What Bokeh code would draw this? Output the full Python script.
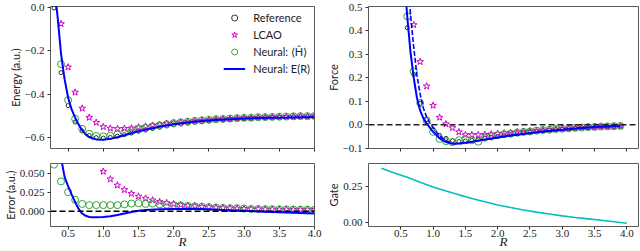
from bokeh.plotting import figure
from bokeh.layouts import row, column
from bokeh.models import (Range1d, FixedTicker, CustomJSTickFormatter, Legend,
                          LegendItem, Span, CustomLabelingPolicy)
from bokeh.embed import file_html
from bokeh.resources import INLINE

# ---------------- data ----------------
R_E = [0.3, 0.4, 0.5, 0.6, 0.7, 0.8, 0.9, 1.0, 1.1, 1.2, 1.3, 1.4, 1.5, 1.6, 1.7,
       1.8, 1.9, 2.0, 2.1, 2.2, 2.3, 2.4, 2.5, 2.6, 2.7, 2.8, 2.9, 3.0, 3.1, 3.2,
       3.3, 3.4, 3.5, 3.6, 3.7, 3.8, 3.9, 4.0]
E_ref = [-0.002, -0.300, -0.452, -0.528, -0.569, -0.590, -0.600, -0.602, -0.599,
         -0.593, -0.586, -0.579, -0.571, -0.565, -0.558, -0.552, -0.546, -0.541,
         -0.537, -0.533, -0.529, -0.526, -0.523, -0.520, -0.518, -0.516, -0.514,
         -0.512, -0.511, -0.509, -0.508, -0.507, -0.506, -0.505, -0.504, -0.503,
         -0.503, -0.502]
E_H = [0.059, -0.261, -0.427, -0.513, -0.5595, -0.582, -0.592, -0.594, -0.591,
       -0.585, -0.577, -0.569, -0.5605, -0.5555, -0.548, -0.543, -0.5375, -0.533,
       -0.5295, -0.526, -0.5225, -0.520, -0.5175, -0.515, -0.5135, -0.512, -0.510,
       -0.5085, -0.508, -0.506, -0.5052, -0.5044, -0.5035, -0.5026, -0.5017,
       -0.5008, -0.5009, -0.500]
err_H = [0.061, 0.039, 0.025, 0.015, 0.0095, 0.008, 0.008, 0.008, 0.008, 0.008,
         0.009, 0.010, 0.0105, 0.0095, 0.010, 0.009, 0.0085, 0.008, 0.0075, 0.007,
         0.0065, 0.006, 0.0055, 0.005, 0.0045, 0.004, 0.004, 0.0035, 0.003, 0.003,
         0.0028, 0.0026, 0.0025, 0.0024, 0.0023, 0.0022, 0.0021, 0.002]

R_L = [0.4, 0.5, 0.6, 0.7, 0.8, 0.9, 1.0, 1.1, 1.2, 1.3, 1.4, 1.5, 1.6, 1.7,
       1.8, 1.9, 2.0, 2.1, 2.2, 2.3, 2.4, 2.5, 2.6, 2.7, 2.8, 2.9, 3.0, 3.1, 3.2,
       3.3, 3.4, 3.5, 3.6, 3.7, 3.8, 3.9, 4.0]
E_L = [-0.075, -0.275, -0.391, -0.465, -0.507, -0.530, -0.550, -0.557, -0.559,
       -0.558, -0.556, -0.5515, -0.548, -0.5435, -0.5395, -0.535, -0.5315,
       -0.5285, -0.5255, -0.522, -0.520, -0.5175, -0.515, -0.5135, -0.512,
       -0.5103, -0.5086, -0.5079, -0.5061, -0.5053, -0.5045, -0.5036, -0.5027,
       -0.5018, -0.5009, -0.501, -0.500]
err_L = [0.225, 0.177, 0.137, 0.104, 0.083, 0.070, 0.052, 0.042, 0.034, 0.028,
         0.023, 0.0195, 0.0168, 0.0145, 0.0125, 0.011, 0.0095, 0.0085, 0.0075,
         0.0068, 0.006, 0.0055, 0.005, 0.0045, 0.004, 0.0037, 0.0034, 0.0031,
         0.0029, 0.0027, 0.0025, 0.0024, 0.0023, 0.0022, 0.0021, 0.002, 0.002]

R_line = [0.33, 0.35, 0.40, 0.45, 0.50, 0.55, 0.60, 0.65, 0.70, 0.75, 0.80, 0.85,
          0.90, 1.0, 1.1, 1.2, 1.3, 1.4, 1.5, 1.6, 1.8, 2.0, 2.2, 2.4, 2.6, 2.8,
          3.0, 3.2, 3.4, 3.6, 3.8, 4.0]
E_line = [0.02, -0.04, -0.215, -0.33, -0.415, -0.47, -0.508, -0.54, -0.566,
          -0.585, -0.597, -0.604, -0.608, -0.6095, -0.6055, -0.598, -0.589, -0.580,
          -0.5705, -0.5635, -0.5495, -0.538, -0.530, -0.5232, -0.518, -0.5148,
          -0.5115, -0.5092, -0.508, -0.5068, -0.5054, -0.505]

R_err_line = [0.35, 0.40, 0.45, 0.50, 0.55, 0.60, 0.65, 0.70, 0.75, 0.80, 0.85,
              0.90, 1.0, 1.1, 1.2, 1.3, 1.4, 1.5, 1.6, 1.8, 2.0, 2.2, 2.4, 2.6,
              2.8, 3.0, 3.2, 3.4, 3.6, 3.8, 4.0]
err_line = [0.11, 0.07, 0.045, 0.033, 0.022, 0.012, 0.003, -0.003, -0.006, -0.0075,
            -0.008, -0.008, -0.0075, -0.0065, -0.005, -0.003, -0.001, 0.0005,
            0.0015, 0.0025, 0.003, 0.003, 0.0028, 0.002, 0.0012, 0.0005, -0.0002,
            -0.001, -0.0018, -0.0024, -0.003]

R_F = [0.6, 0.7, 0.8, 0.9, 1.0, 1.1, 1.2, 1.3, 1.4, 1.5, 1.6, 1.7, 1.8, 1.9, 2.0,
       2.1, 2.2, 2.3, 2.4, 2.5, 2.6, 2.7, 2.8, 2.9, 3.0, 3.1, 3.2, 3.3, 3.4, 3.5,
       3.6, 3.7, 3.8, 3.9]
F_ref = [0.413, 0.214, 0.091, 0.022, -0.020, -0.045, -0.058, -0.067, -0.071, -0.069,
         -0.066, -0.062, -0.058, -0.054, -0.050, -0.046, -0.042, -0.038, -0.035,
         -0.032, -0.029, -0.026, -0.023, -0.021, -0.019, -0.017, -0.015, -0.013,
         -0.012, -0.011, -0.009, -0.008, -0.007, -0.006]
F_H = [0.461, 0.227, 0.092, 0.018, -0.030, -0.060, -0.070, -0.074, -0.066, -0.060,
       -0.066, -0.072, -0.055, -0.050, -0.044, -0.040, -0.038, -0.034, -0.030,
       -0.029, -0.025, -0.022, -0.021, -0.018, -0.017, -0.015, -0.013, -0.012,
       -0.010, -0.009, -0.008, -0.007, -0.006, -0.005]
R_FL = [0.7, 0.8, 0.9, 1.0, 1.1, 1.2, 1.3, 1.4, 1.5, 1.6, 1.7, 1.8, 1.9, 2.0,
        2.1, 2.2, 2.3, 2.4, 2.5, 2.6, 2.7, 2.8, 2.9, 3.0, 3.1, 3.2, 3.3, 3.4, 3.5,
        3.6, 3.7, 3.8, 3.9]
F_L = [0.425, 0.268, 0.164, 0.082, 0.031, 0.003, -0.013, -0.031, -0.043, -0.043,
       -0.043, -0.042, -0.040, -0.038, -0.036, -0.034, -0.031, -0.029, -0.027,
       -0.025, -0.023, -0.021, -0.019, -0.017, -0.015, -0.014, -0.012, -0.011,
       -0.010, -0.009, -0.008, -0.007, -0.006]
R_FE = [0.55, 0.6, 0.65, 0.7, 0.75, 0.8, 0.85, 0.9, 0.95, 1.0, 1.1, 1.2, 1.3, 1.4,
        1.5, 1.6, 1.8, 2.0, 2.2, 2.4, 2.6, 2.8, 3.0, 3.2, 3.4, 3.6, 3.8, 3.9]
F_E = [0.64, 0.46, 0.31, 0.20, 0.115, 0.06, 0.027, 0.006, -0.012, -0.03, -0.058,
       -0.074, -0.081, -0.080, -0.077, -0.072, -0.063, -0.054, -0.046, -0.039,
       -0.032, -0.026, -0.021, -0.016, -0.012, -0.009, -0.006, -0.005]
R_FD = [0.6, 0.65, 0.7, 0.75, 0.8, 0.85, 0.9, 0.95, 1.0, 1.05, 1.1, 1.2, 1.3, 1.4,
        1.5, 1.6, 1.8, 2.0, 2.2, 2.4, 2.6, 2.8, 3.0, 3.2, 3.4, 3.6, 3.8, 3.9]
F_D = [0.64, 0.47, 0.33, 0.21, 0.13, 0.07, 0.033, 0.008, -0.012, -0.03, -0.047,
       -0.068, -0.079, -0.081, -0.078, -0.073, -0.063, -0.054, -0.046, -0.039,
       -0.032, -0.026, -0.021, -0.016, -0.012, -0.009, -0.006, -0.005]

R_G = [0.2, 0.4, 0.6, 0.8, 1.0, 1.2, 1.4, 1.6, 1.8, 2.0, 2.2, 2.4, 2.6, 2.8, 3.0,
       3.2, 3.4, 3.6, 3.8, 4.0]
G = [0.378, 0.345, 0.315, 0.28, 0.248, 0.22, 0.193, 0.168, 0.145, 0.123, 0.105,
     0.088, 0.073, 0.060, 0.047, 0.036, 0.026, 0.016, 0.006, -0.004]

x_ticks = [0.5, 1.0, 1.5, 2.0, 2.5, 3.0, 3.5, 4.0]
energy_ticks = [0.0, -0.2, -0.4, -0.6]
error_ticks = [0.0, 0.025, 0.05]
force_ticks = [-0.1, 0.0, 0.1, 0.2, 0.3, 0.4, 0.5]
gate_ticks = [0.0, 0.25]

# ---------------- style ----------------
C_REF = "black"
C_LCAO = "#c800c8"
C_NH = "#34a634"
C_BLUE = "#0000ff"
C_GATE = "#00bfbf"
FRAME = "#5a5a5a"
SERIF = "Liberation Serif"
SANS = "Lato"

W_L, W_R = 323, 317
H_T, H_B = 155, 96
ML_L, MR_L, ML_R, MR_R = 39, 9, 40, 2
MB_B = 24


def fmt(d):
    return CustomJSTickFormatter(
        code="var s = Math.abs(tick).toFixed(%d); return (tick < -1e-9 ? '\u2212' : '') + s;" % d)


def style(p, xt, yt, yd, ylabel, show_x):
    p.outline_line_color = FRAME
    p.outline_line_width = 1
    p.xgrid.visible = False
    p.ygrid.visible = False
    p.background_fill_color = "white"
    p.border_fill_color = "white"
    for ax in (p.xaxis[0], p.yaxis[0]):
        ax.axis_line_color = None
        ax.major_tick_in = 0
        ax.major_tick_out = 3
        ax.minor_tick_in = 0
        ax.minor_tick_out = 0
        ax.major_tick_line_color = "#333333"
        ax.major_label_text_font = SERIF
        ax.major_label_text_font_size = "11px"
        ax.major_label_text_color = "#222222"
    p.yaxis.major_label_standoff = 3
    p.xaxis.major_label_standoff = 0
    p.xaxis.ticker = FixedTicker(ticks=xt)
    p.xaxis.formatter = fmt(1)
    p.yaxis.ticker = FixedTicker(ticks=yt)
    p.yaxis.formatter = fmt(yd)
    p.yaxis.axis_label = ylabel
    p.yaxis.axis_label_text_font = SANS
    p.yaxis.axis_label_text_font_size = "11px"
    p.yaxis.axis_label_text_font_style = "normal"
    p.yaxis.axis_label_text_color = "#222222"
    p.yaxis.axis_label_standoff = 0
    if show_x:
        p.xaxis.axis_label = "R"
        p.xaxis.axis_label_text_font = SERIF
        p.xaxis.axis_label_text_font_size = "13px"
        p.xaxis.axis_label_text_font_style = "italic"
        p.xaxis.axis_label_text_color = "#222222"
        p.xaxis.axis_label_standoff = -6
    else:
        # tick marks only, no tick labels (shared x with the panel below)
        p.xaxis.major_label_policy = CustomLabelingPolicy(
            code="for (const i of indices) indices.unset(i); return indices;")
        p.xaxis.major_label_text_font_size = "1px"


common = dict(output_backend="svg", toolbar_location=None)

# Energy
p1 = figure(width=W_L, height=H_T, x_range=Range1d(0.25, 4.0),
            y_range=Range1d(-0.65, 0.005), min_border_left=ML_L, min_border_right=MR_L,
            min_border_top=6, min_border_bottom=7, **common)
style(p1, x_ticks, energy_ticks, 1, "Energy (a.u.)", False)
r_ref = p1.scatter(R_E, E_ref, marker="circle", size=4, fill_color=None,
                   line_color=C_REF, line_width=0.8)
r_lcao = p1.scatter(R_L, E_L, marker="star", size=7, fill_color=None,
                    line_color=C_LCAO, line_width=1)
r_nh = p1.scatter(R_E, E_H, marker="circle", size=7, fill_color=None,
                  line_color=C_NH, line_width=1)
r_ne = p1.line(R_line, E_line, line_color=C_BLUE, line_width=2)
legend = Legend(items=[
    LegendItem(label="Reference", renderers=[r_ref]),
    LegendItem(label="LCAO", renderers=[r_lcao]),
    LegendItem(label="Neural: \u27e8\u0124\u27e9", renderers=[r_nh]),
    LegendItem(label="Neural: E(R)", renderers=[r_ne]),
], location="top_right")
legend.border_line_color = None
legend.background_fill_alpha = 0
legend.label_text_font = SANS
legend.label_text_font_size = "11px"
legend.label_text_color = "#222222"
legend.glyph_width = 22
legend.glyph_height = 15
legend.label_height = 15
legend.label_standoff = 8
legend.spacing = 2
legend.padding = 2
legend.margin = 4
p1.add_layout(legend)

# Error
p2 = figure(width=W_L, height=H_B, x_range=p1.x_range,
            y_range=Range1d(-0.02, 0.0625), min_border_left=ML_L, min_border_right=MR_L,
            min_border_top=8, min_border_bottom=MB_B, **common)
style(p2, x_ticks, error_ticks, 3, "Error (a.u.)", True)
p2.add_layout(Span(location=0, dimension="width", line_color="black",
                   line_width=1.4, line_dash="6 3"))
p2.scatter(R_L, err_L, marker="star", size=7, fill_color=None,
           line_color=C_LCAO, line_width=1)
p2.scatter(R_E, err_H, marker="circle", size=7, fill_color=None,
           line_color=C_NH, line_width=1)
p2.line(R_err_line, err_line, line_color=C_BLUE, line_width=2)

# Force
p3 = figure(width=W_R, height=H_T, x_range=Range1d(0.0, 4.18),
            y_range=Range1d(-0.101, 0.503), min_border_left=ML_R, min_border_right=MR_R,
            min_border_top=6, min_border_bottom=7, **common)
style(p3, x_ticks, force_ticks, 1, "Force", False)
p3.add_layout(Span(location=0, dimension="width", line_color="#222222",
                   line_width=1.4, line_dash="6 3"))
p3.scatter(R_F, F_ref, marker="circle", size=4, fill_color=None,
           line_color=C_REF, line_width=0.8)
p3.scatter(R_FL, F_L, marker="star", size=7, fill_color=None,
           line_color=C_LCAO, line_width=1)
p3.scatter(R_F, F_H, marker="circle", size=7, fill_color=None,
           line_color=C_NH, line_width=1)
p3.line(R_FE, F_E, line_color=C_BLUE, line_width=2)
p3.line(R_FD, F_D, line_color=C_BLUE, line_width=1.6, line_dash="5 2")

# Gate
p4 = figure(width=W_R, height=H_B, x_range=p3.x_range,
            y_range=Range1d(-0.027, 0.411), min_border_left=ML_R, min_border_right=MR_R,
            min_border_top=8, min_border_bottom=MB_B, **common)
style(p4, x_ticks, gate_ticks, 2, "Gate", True)
p4.line(R_G, G, line_color=C_GATE, line_width=1.6)

layout = row(column(p1, p2), column(p3, p4))
open("out.html", "w").write(file_html(layout, INLINE))
